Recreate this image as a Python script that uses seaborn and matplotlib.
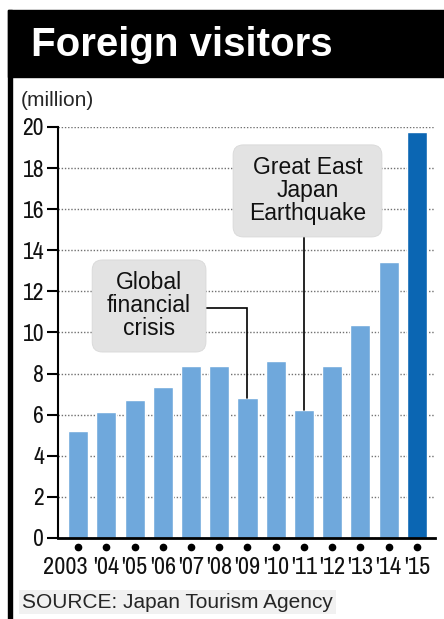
import matplotlib
matplotlib.use('Agg')
import matplotlib.pyplot as plt
import matplotlib.transforms as mtransforms
import seaborn as sns
import pandas as pd
from matplotlib.patches import FancyBboxPatch, Rectangle
from matplotlib import font_manager

# ---- data ----
years = ['2003', "'04", "'05", "'06", "'07", "'08", "'09", "'10", "'11", "'12", "'13", "'14", "'15"]
visitors = [5.21, 6.14, 6.73, 7.33, 8.35, 8.35, 6.79, 8.61, 6.22, 8.36, 10.36, 13.41, 19.74]
bar_colors = ['#6fa8dc'] * 12 + ['#0b66b3']
yticks = [0, 2, 4, 6, 8, 10, 12, 14, 16, 18, 20]
title = 'Foreign visitors'
unit = '(million)'
source = 'SOURCE: Japan Tourism Agency'
event_labels = ['Global\nfinancial\ncrisis', 'Great East\nJapan\nEarthquake']
event_years = ["'09", "'11"]

sns.set_theme(style='white')
names = {f.name for f in font_manager.fontManager.ttflist}
narrow = 'Liberation Sans'
for cand in ['Liberation Sans Narrow', 'Arial Narrow', 'Archivo Narrow', 'Roboto Condensed',
             'PT Sans Narrow', 'Barlow Semi Condensed']:
    if cand in names:
        narrow = cand
        break
plt.rcParams['font.family'] = ['Liberation Sans', 'DejaVu Sans']

W, H = 444, 619
fig = plt.figure(figsize=(W / 100, H / 100), dpi=100)
fig.patch.set_facecolor('white')

# header band and left border
fig.patches.append(Rectangle((8 / W, 1 - 77 / H), (W - 8) / W, 67 / H,
                             transform=fig.transFigure, color='black', zorder=0))
fig.patches.append(Rectangle((8 / W, 0), 4 / W, 1 - 10 / H,
                             transform=fig.transFigure, color='black', zorder=0))
fig.text(31 / W, 1 - 45 / H, title, color='white', fontsize=29, fontweight='bold',
         va='center', ha='left')
fig.text(21 / W, 1 - 100 / H, unit, fontsize=15, va='center', ha='left')
fig.text(22 / W, 1 - 602 / H, source, fontsize=15, va='center', ha='left',
         bbox=dict(fc='#f1f1f1', ec='none', pad=2))

ax = fig.add_axes([58 / W, 81 / H, 377 / W, 411 / H])
df = pd.DataFrame({'year': years, 'visitors': visitors})
sns.barplot(data=df, x='year', y='visitors', hue='year', palette=bar_colors,
            legend=False, width=0.71, saturation=1, ax=ax, zorder=2)

ax.set_xlim(-0.71, 12.64)
ax.set_ylim(0, 20)
ax.set_yticks(yticks)
ax.set_xlabel('')
ax.set_ylabel('')
ax.set_facecolor('none')

ax.set_axisbelow(True)
ax.yaxis.grid(True, linestyle=(0, (1, 1.3)), color='#707070', lw=1.0)
ax.xaxis.grid(False)
for s in ['top', 'right']:
    ax.spines[s].set_visible(False)
ax.spines['left'].set_color('black')
ax.spines['left'].set_linewidth(1.5)
ax.spines['bottom'].set_color('black')
ax.spines['bottom'].set_linewidth(2)
ax.spines['bottom'].set_zorder(4)

ax.tick_params(axis='y', length=8, width=1.5, color='black', direction='out',
               pad=2, labelsize=17, left=True)
ax.tick_params(axis='x', length=0, pad=14, labelsize=17.5)
for lab in ax.get_xticklabels() + ax.get_yticklabels():
    lab.set_fontfamily([narrow, 'Liberation Sans'])
    lab.set_color('#111111')

# first (full-year) label sits to the left, flush with the bar's right edge
first = ax.get_xticklabels()[0]
first.set_horizontalalignment('right')
first.set_transform(first.get_transform() +
                    mtransforms.ScaledTranslation(0.10, 0, fig.dpi_scale_trans))

# dots under each bar
xs = list(range(len(years)))
ax.plot(xs, [-0.42] * len(xs), 'o', color='black', ms=4.5, clip_on=False, zorder=5)

# annotation boxes
px_x = 377 / 13.35   # px per x unit
px_y = 411 / 20      # px per y unit
asp = px_x / px_y

i0 = years.index(event_years[0])
i1 = years.index(event_years[1])

b1 = (0.5, 9.05, 4.03, 4.48)     # Global financial crisis
b2 = (5.49, 14.65, 5.27, 4.48)   # Great East Japan Earthquake
for (x0, y0, w, h), lab in zip([b1, b2], event_labels):
    p = FancyBboxPatch((x0, y0), w, h, boxstyle='round,pad=0,rounding_size=0.36',
                       mutation_aspect=asp, fc='#e3e3e3', ec='#d8d8d8', lw=0.6, zorder=6)
    ax.add_patch(p)
    ax.text(x0 + w / 2, y0 + h / 2, lab, ha='center', va='center', fontsize=16.5,
            linespacing=1.0, color='#111111', zorder=7)

# leader lines
ymid = 11.2
ax.plot([b1[0] + b1[2], i0, i0], [ymid, ymid, visitors[i0]], color='black', lw=1.2,
        zorder=5, solid_joinstyle='miter')
ax.plot([i1, i1], [b2[1], visitors[i1]], color='black', lw=1.2, zorder=5)

fig.savefig('out.png', dpi=100)
